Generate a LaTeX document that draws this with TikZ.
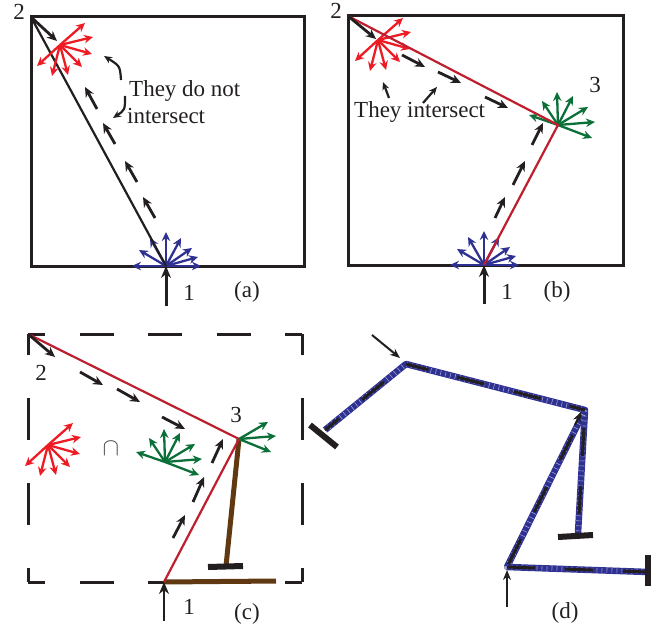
\documentclass[tikz,border=0pt]{standalone}
\usepackage{fontspec}
\setmainfont{Liberation Serif}
\usetikzlibrary{arrows.meta}
\definecolor{fanred}{RGB}{237,28,36}
\definecolor{linered}{RGB}{190,30,45}
\definecolor{fanblue}{RGB}{46,49,146}
\definecolor{fangreen}{RGB}{10,112,55}
\definecolor{barbrown}{RGB}{96,57,19}
\definecolor{ink}{RGB}{35,31,32}
\newcommand\redfan[1]{\foreach \dx/\dy in {25/-22,33/-8,32/9,22/22,8/30,-8/31,-23/21} \draw[fanr] (#1) -- ++(\dx,\dy);}
\newcommand\bluefan[1]{\foreach \dx/\dy in {-34/0,-27/-16,-16/-28,0/-34,15/-28,26/-18,32/-9,35/0} \draw[fanb] (#1) -- ++(\dx,\dy);}
\newcommand\greenfan[1]{\foreach \dx/\dy in {-29/-10,-16/-24,-1/-33,15/-29,30/-18,37/-3,34/13} \draw[fang] (#1) -- ++(\dx,\dy);}
\newcommand\greenpart[1]{\foreach \dx/\dy in {29/-17,37/-3,32/13} \draw[fang] (#1) -- ++(\dx,\dy);}
\begin{document}
\begin{tikzpicture}[x=1pt,y=-1pt,
  frame/.style={draw=ink,line width=3pt},
  dframe/.style={draw=ink,line width=3pt},
  fanr/.style={draw=fanred,line width=2.3pt,-{Stealth[length=9pt,width=8.5pt]}},
  fanb/.style={draw=fanblue,line width=2.3pt,-{Stealth[length=9pt,width=8.5pt]}},
  fang/.style={draw=fangreen,line width=2.3pt,-{Stealth[length=9pt,width=8.5pt]}},
  darr/.style={draw=ink,line width=2.8pt,-{Stealth[length=10pt,width=9pt]}},
  sarr/.style={draw=ink,line width=2.2pt,-{Stealth[length=8pt,width=7pt]}},
  inarr/.style={draw=ink,line width=3pt,-{Stealth[length=12pt,width=10pt]}},
  thinin/.style={draw=ink,line width=2pt,-{Stealth[length=10pt,width=8pt]}},
  solidl/.style={draw=ink,line width=2.2pt},
  redl/.style={draw=linered,line width=2.2pt},
  brownl/.style={draw=barbrown,line width=5pt},
  tbar/.style={draw=ink,line width=6pt},
  pathl/.style={draw=fanblue,line width=6.5pt,line join=round},
  ticks/.style={draw=white,line width=5pt,dash pattern=on 0.6pt off 4.4pt,opacity=0.55},
  dashk/.style={draw=ink,line width=3pt,dash pattern=on 28pt off 30pt},
  lbl/.style={text=ink,font=\fontsize{23}{27}\selectfont,inner sep=0pt}]
\useasboundingbox (0,0) rectangle (664,631);

% ---------------- panel (a)
\coordinate (aTL) at (31,17); \coordinate (aBR) at (304,266);
\coordinate (a2) at (31,17); \coordinate (a1) at (166,266); \coordinate (aR) at (60,45);
\coordinate (a1in) at (166,306);
\draw[frame] (aTL) rectangle (aBR);
\bluefan{a1}
\draw[solidl] (a2) -- (a1);
\redfan{aR}
\draw[darr] (a2) -- (57,41);
\foreach \sx/\sy/\ex/\ey in {155/218/143/197,137/182/125/161,115/144/103/123,97/109/85/87}
  \draw[darr] (\sx,\sy) -- (\ex,\ey);
\draw[sarr] (121,80) .. controls (120,66) .. (104,56);
\draw[sarr] (125,96) .. controls (125,110) .. (113,118);
\draw[inarr] (a1in) -- (a1);
\node[lbl,anchor=base west] (at1) at (129,97) {They do not};
\node[lbl,anchor=base west] (at2) at (127,124) {intersect};
\node[lbl] (a2l) at (19,12) {2};
\node[lbl] (a1l) at (189,293) {1};
\node[lbl] (acap) at (247,292) {(a)};

% ---------------- panel (b)
\coordinate (bTL) at (348,16); \coordinate (bBR) at (623,265);
\coordinate (b2) at (348,16); \coordinate (b3) at (558,125); \coordinate (b1) at (484,265);
\coordinate (bR) at (378,40); \coordinate (b1in) at (484,304);
\draw[frame] (bTL) rectangle (bBR);
\bluefan{b1}
\redfan{bR}
\greenfan{b3}
\draw[redl] (b2) -- (b3) -- (b1);
\draw[darr] (b2) -- (376,39);
\foreach \sx/\sy/\ex/\ey in {402/55/425/67,438/72/461/83,485/97/508/108,495/218/505/197,513/185/525/161,532/145/543/123}
  \draw[darr] (\sx,\sy) -- (\ex,\ey);
\draw[sarr] (389,98) -- (383,82);
\draw[sarr] (423,103) -- (437,87);
\draw[inarr] (b1in) -- (b1);
\node[lbl,anchor=base west] (bt) at (354,118) {They intersect};
\node[lbl] (b2l) at (336,11) {2};
\node[lbl] (b3l) at (595,85) {3};
\node[lbl] (b1l) at (507,292) {1};
\node[lbl] (bcap) at (557,292) {(b)};

% ---------------- panel (c)
\coordinate (cTL) at (28,334); \coordinate (cTR) at (302,334);
\coordinate (cBL) at (28,582); \coordinate (cBR) at (302,582);
\coordinate (c2) at (28,334); \coordinate (c3) at (239,439); \coordinate (c1) at (164,582);
\coordinate (cR) at (48,445); \coordinate (cG) at (165,462);
\coordinate (cT) at (226,566); \coordinate (cH) at (276,581); \coordinate (c1in) at (164,621);
\foreach \p/\q in {cTL/cTR,cBL/cBR}
  \draw[dframe,dash pattern=on 34pt off 34.5pt,dash phase=17pt] (\p) -- (\q);
\foreach \p/\q in {cTL/cBL,cTR/cBR}
  \draw[dframe,dash pattern=on 42pt off 43pt,dash phase=21pt] (\p) -- (\q);
\draw[brownl] (c3) -- (cT);
\draw[tbar] (208,567) -- (243,566);
\draw[brownl] (c1) -- (cH);
\draw[redl] (c2) -- (c3) -- (c1);
\greenpart{c3}
\redfan{cR}
\greenfan{cG}
\draw[darr] (c2) -- (55,357);
\foreach \sx/\sy/\ex/\ey in {80/372/103/385,117/389/140/402,162/417/185/429,173/538/185/515,193/502/204/477,212/463/223/439}
  \draw[darr] (\sx,\sy) -- (\ex,\ey);
\draw[inarr,line width=2pt] (c1in) -- (c1);
\node[lbl] (ccap2) at (41,373) {2};
\node[lbl] (c3l) at (236,415) {3};
\node[lbl,text=ink!80] (cap) at (111,449) {$\cap$};
\node[lbl] (c1l) at (189,607) {1};
\node[lbl] (ccap) at (247,614) {(c)};

% ---------------- panel (d)
\coordinate (dA) at (325,430); \coordinate (dB) at (406,364); \coordinate (dC) at (585,410);
\coordinate (dD) at (578,533); \coordinate (dE) at (507,567); \coordinate (dF) at (648,572);
\draw[pathl] (dA) -- (dB) -- (dC) -- (dD);
\draw[pathl] (dC) -- (dE) -- (dF);
\draw[ticks] (dA) -- (dB) -- (dC) -- (dD);
\draw[ticks] (dC) -- (dE) -- (dF);
\draw[dashk,dash phase=10pt,xshift=-2.5pt,yshift=2.5pt] (dA) -- (dB);
\draw[dashk,dash phase=5pt,yshift=3.5pt] (dB) -- (dC);
\draw[dashk,dash phase=40pt,xshift=-3.5pt] (dC) -- (dD);
\draw[dashk,dash phase=30pt,xshift=-3.5pt] (dC) -- (dE);
\draw[dashk,dash phase=0pt,yshift=3.5pt] (dE) -- (dF);
\draw[tbar] (310,425) -- (337,447);
\draw[tbar] (558,537) -- (593,535);
\draw[tbar] (648,555) -- (648,586);
\draw[thinin] (372,335) -- (400,358);
\draw[thinin] (575,425) -- (581,412);
\draw[thinin] (507,607) -- (507,570);
\node[lbl] (dcap) at (565,613) {(d)};
\end{tikzpicture}
\end{document}
